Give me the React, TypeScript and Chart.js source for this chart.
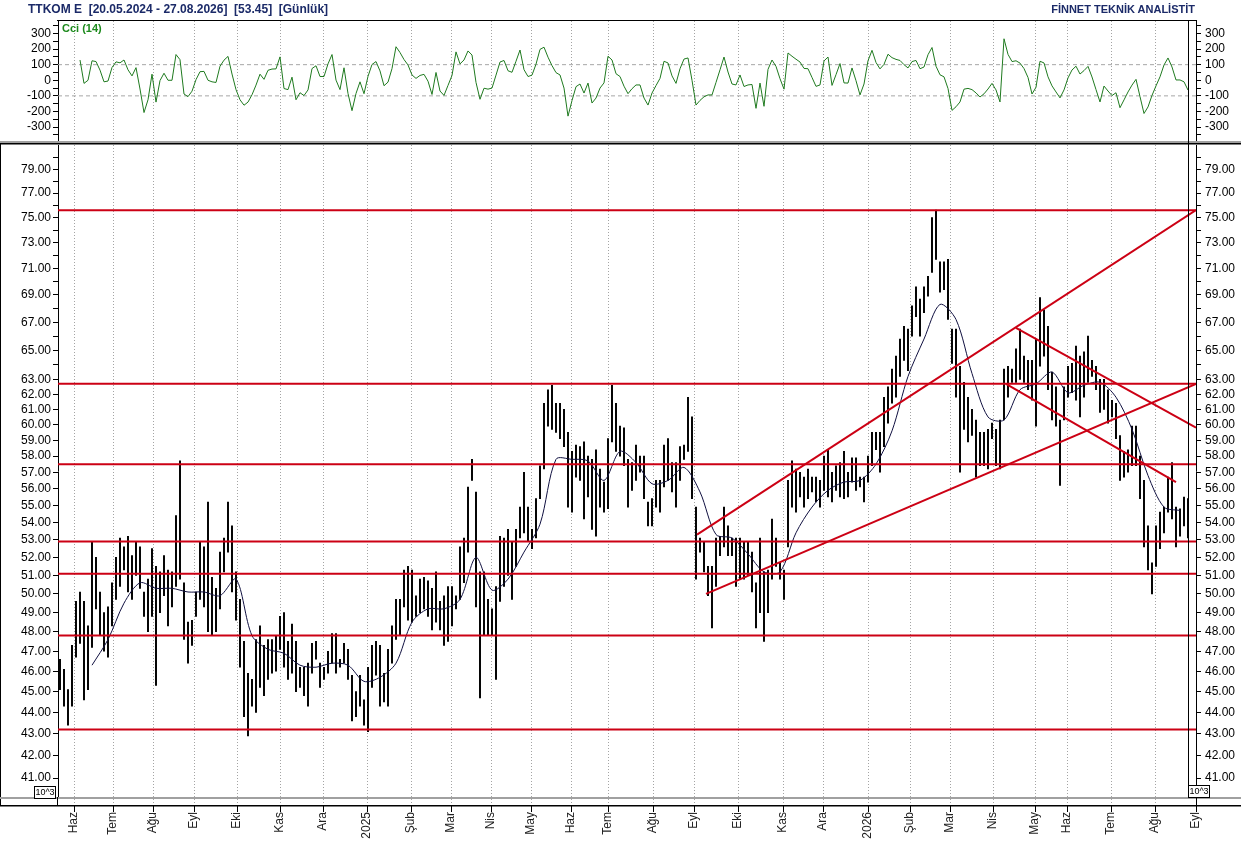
import React, { useEffect, useRef } from 'react';
import { Chart, registerables } from 'chart.js';

Chart.register(...registerables);

const FONT = "'Liberation Sans', Arial, Helvetica, sans-serif";

// ---- price bars (one bar per two sessions), high / low ----
const highs = [
  46.6, 46.1, 45.1, 47.3, 49.6, 50.1, 49.6, 48.3, 52.9, 52.0,
  50.1, 49.0, 49.3, 50.6, 52.0, 53.1, 52.6, 53.2, 52.1, 52.9,
  52.6, 50.1, 50.8, 52.5, 51.5, 51.2, 52.1, 51.3, 51.2, 54.4,
  57.7, 50.6, 48.5, 48.6, 50.1, 52.9, 52.6, 55.2, 50.9, 50.3,
  52.3, 53.1, 55.2, 53.8, 51.2, 49.7, 47.5, 45.9, 45.6, 47.6,
  48.3, 47.3, 47.6, 47.6, 47.8, 48.8, 49.0, 47.5, 48.4, 47.5,
  46.2, 46.2, 46.4, 47.4, 47.5, 46.4, 46.2, 47.0, 47.9, 47.9,
  46.6, 47.4, 47.1, 45.8, 45.0, 45.8, 44.6, 46.2, 47.3, 47.5,
  47.3, 45.9, 47.1, 48.3, 49.7, 49.7, 51.3, 51.5, 51.3, 49.9,
  50.8, 50.9, 50.7, 50.3, 51.2, 49.6, 49.9, 50.4, 50.4, 49.9,
  52.6, 53.1, 56.1, 57.8, 55.8, 51.2, 51.2, 49.7, 49.2, 50.4,
  53.2, 53.1, 53.6, 52.9, 53.6, 54.9, 57.0, 54.9, 53.6, 55.4,
  57.4, 61.4, 62.3, 62.6, 61.4, 61.4, 61.0, 59.5, 58.3, 58.7,
  58.6, 58.9, 58.0, 57.8, 58.4, 57.2, 56.4, 59.1, 62.6, 61.4,
  59.9, 59.8, 57.8, 57.6, 58.7, 58.0, 58.0, 55.2, 55.4, 56.5,
  56.5, 58.7, 59.1, 57.6, 57.6, 58.6, 58.7, 61.8, 60.5, 54.9,
  53.1, 52.9, 51.5, 51.5, 53.1, 53.2, 54.9, 53.8, 53.1, 53.1,
  53.1, 52.9, 52.9, 52.3, 50.6, 53.1, 51.2, 51.3, 54.2, 53.1,
  51.7, 51.3, 56.5, 57.7, 57.2, 57.0, 56.7, 57.2, 56.7, 56.7,
  56.5, 58.0, 58.4, 57.0, 57.4, 57.6, 58.3, 57.0, 57.9, 57.9,
  56.7, 56.7, 58.0, 59.5, 59.5, 59.5, 61.8, 62.5, 63.7, 64.6,
  65.8, 66.7, 66.5, 68.2, 69.6, 68.7, 69.6, 70.4, 75.0, 75.6,
  71.5, 71.5, 71.7, 66.5, 66.5, 63.9, 62.8, 61.8, 61.0, 60.3,
  59.5, 59.5, 59.7, 60.1, 59.7, 60.3, 63.7, 63.9, 63.7, 65.1,
  66.5, 64.6, 64.3, 64.3, 65.8, 68.8, 67.9, 66.7, 63.5, 62.5,
  60.3, 62.5, 63.9, 64.1, 65.3, 64.6, 64.9, 66.0, 64.3, 63.9,
  63.0, 63.0, 62.3, 61.6, 61.4, 59.3, 58.3, 58.4, 59.9, 59.9,
  58.0, 56.5, 53.8, 51.7, 53.8, 54.6, 54.9, 56.7, 57.6, 54.9,
  54.8, 55.5, 55.4,
];
const lows = [
  45.1, 44.3, 43.4, 44.3, 46.7, 47.4, 44.6, 45.1, 47.2, 49.2,
  47.8, 47.0, 46.7, 48.3, 49.7, 50.4, 51.3, 50.1, 49.7, 51.0,
  50.3, 48.8, 48.0, 48.8, 45.3, 49.0, 49.9, 48.3, 49.3, 50.4,
  50.8, 47.6, 46.4, 47.3, 48.8, 49.7, 49.3, 48.0, 47.8, 48.0,
  49.2, 51.2, 52.3, 50.1, 48.6, 46.2, 43.8, 42.9, 44.3, 44.0,
  45.2, 44.8, 45.6, 45.9, 46.0, 47.1, 46.2, 45.6, 45.9, 45.0,
  45.2, 44.8, 44.3, 45.9, 46.6, 45.2, 45.6, 45.9, 46.4, 45.9,
  46.2, 46.4, 45.6, 43.6, 43.8, 44.3, 43.4, 43.1, 45.2, 45.8,
  44.3, 44.5, 44.3, 46.4, 47.6, 47.8, 49.3, 48.6, 48.5, 48.8,
  49.0, 49.2, 48.8, 48.1, 48.5, 48.1, 47.3, 47.5, 48.3, 49.2,
  49.7, 50.6, 52.3, 56.5, 49.3, 44.7, 47.8, 47.8, 47.8, 45.6,
  49.6, 50.4, 51.0, 49.7, 51.5, 53.1, 53.4, 52.9, 52.5, 53.1,
  55.4, 57.2, 59.9, 59.7, 59.5, 59.1, 58.6, 54.9, 54.6, 56.7,
  56.5, 54.2, 55.5, 53.6, 53.2, 54.9, 54.6, 54.8, 58.9, 58.3,
  58.0, 57.4, 54.9, 55.9, 56.5, 57.0, 55.4, 53.8, 53.8, 54.9,
  54.6, 56.1, 56.5, 55.8, 54.9, 56.5, 57.8, 58.3, 55.4, 50.8,
  52.3, 51.2, 49.9, 48.2, 50.4, 52.1, 52.6, 52.1, 52.1, 50.4,
  50.8, 50.8, 51.0, 50.1, 48.2, 49.0, 47.5, 49.0, 50.8, 51.5,
  50.8, 49.7, 52.6, 54.9, 54.6, 55.5, 54.9, 55.4, 55.8, 55.2,
  54.9, 55.9, 55.5, 55.2, 55.9, 55.5, 55.4, 55.5, 56.4, 55.9,
  56.1, 55.2, 56.4, 57.4, 58.4, 57.0, 58.6, 60.1, 61.4, 61.8,
  63.2, 64.3, 63.6, 66.0, 67.4, 66.0, 67.7, 68.9, 70.7, 71.7,
  69.2, 69.4, 67.2, 64.1, 61.8, 57.0, 59.7, 58.9, 59.3, 56.7,
  57.4, 57.4, 57.2, 59.1, 57.4, 57.2, 60.3, 61.8, 62.8, 62.8,
  63.0, 62.8, 62.3, 61.6, 59.9, 63.9, 64.6, 62.3, 60.3, 59.9,
  56.2, 60.3, 61.8, 62.1, 61.6, 60.5, 61.8, 62.8, 63.2, 62.3,
  60.8, 61.0, 60.1, 60.5, 59.1, 56.5, 56.7, 57.0, 57.4, 57.4,
  55.4, 52.6, 51.3, 50.0, 51.5, 52.5, 53.4, 54.6, 54.2, 52.6,
  53.2, 53.8, 53.1,
];

// ---- moving average, sampled every 4 bars starting at bar 8 ----
const maStart = 8;
const maStep = 4;
const maValues = [
  46.3, 47.6, 49.5, 50.6, 50.3, 50.3, 50.1, 50.1, 49.9, 50.8,
  47.8, 47.1, 46.9, 46.3, 46.2, 46.4, 46.3, 45.5, 45.7, 46.4,
  48.5, 49.2, 49.2, 49.7, 52.0, 50.2, 50.8, 52.3, 53.9, 57.8,
  57.8, 57.7, 56.5, 58.3, 57.6, 56.3, 56.5, 57.3, 55.8, 53.3,
  53.1, 52.2, 51.2, 51.2, 53.4, 54.9, 55.9, 56.4, 56.5, 57.5,
  59.6, 63.2, 65.8, 68.3, 67.2, 63.4, 60.5, 60.3, 62.3, 62.7,
  63.5, 62.1, 62.6, 62.8, 61.8, 59.7, 56.8, 54.9, 54.7,
];

// ---- CCI(14), one value per bar starting at bar 5 ----
const cciStart = 5;
const cciValues = [
  130, -20, 0, 125, 120, 65, -10, -5, 82, 118,
  112, 130, 67, 28, 81, -56, -207, -125, 39, -140,
  -2, 45, 0, 0, 165, 132, -88, -105, -70, 4,
  55, 57, 0, -10, -14, 90, 129, 153, 40, -60,
  -125, -160, -140, -93, -31, 39, 6, 64, 72, 73,
  150, -53, -60, 20, -125, -80, -98, -62, 75, 93,
  24, 24, 105, 165, 1, -60, 80, -85, -195, -85,
  -10, -86, 25, 101, 120, 60, -35, -12, 75, 215,
  178, 133, 98, 34, 12, 31, 38, -6, -91, 50,
  -69, -97, -33, 31, 182, 105, 130, 188, 162, -14,
  -122, -51, -57, -50, 33, 117, 127, 61, 51, 122,
  194, 68, 24, 33, 103, 198, 212, 148, 94, 49,
  34, -50, -230, -130, -41, -24, -82, -18, -146, -114,
  -50, -17, 154, 130, 42, 24, -38, -86, -54, -30,
  -30, -114, -159, -82, -34, 12, 122, 111, 28, -20,
  74, 136, 143, 0, -159, -129, -106, -94, -94, -14,
  67, 149, 53, -24, -30, 34, -40, -30, -27, -180,
  -18, -167, 70, 130, 89, 10, -57, 175, 154, 135,
  117, 76, 74, 18, -39, -30, 124, 149, -33, 36,
  107, -17, -18, 79, -3, -94, -24, 125, 192, 114,
  73, 102, 167, 145, 134, 127, 100, 79, 120, 127,
  74, 85, 164, 210, 90, 35, 22, -53, -193, -170,
  -139, -57, -52, -60, -81, -107, -87, -56, -20, -62,
  -139, 266, 166, 120, 125, 110, 75, 18, -88, -45,
  122, 111, 22, -36, -75, -113, -62, 15, 66, 90,
  40, 62, 89, 21, -60, -139, -37, -69, -98, -80,
  -176, -126, -75, -31, 6, -105, -213, -171, -97, -36,
  22, 98, 143, 85, 2, 2, -10, -63,
];

// ---- time axis (bar-index units) ----
const monthLabels = [
  'Haz', 'Tem', 'Ağu', 'Eyl', 'Eki', 'Kas', 'Ara', '2025', 'Şub', 'Mar',
  'Nis', 'May', 'Haz', 'Tem', 'Ağu', 'Eyl', 'Eki', 'Kas', 'Ara', '2026',
  'Şub', 'Mar', 'Nis', 'May', 'Haz', 'Tem', 'Ağu', 'Eyl',
];
const monthPositions = [
  3.5, 13.25, 23.25, 33.5, 44.25, 55, 65.75, 76.75, 87.75, 97.75,
  107.75, 117.75, 127.75, 137, 148.25, 158.5, 169.5, 180.75, 190.75, 202,
  212.5, 222.5, 233.25, 243.75, 251.75, 262.75, 273.75, 284,
];

// ---- price axis ticks ----
const priceLabelTicks = [
  41, 42, 43, 44, 45, 46, 47, 48, 49, 50, 51, 52, 53, 54, 55, 56, 57, 58, 59, 60,
  61, 62, 63, 65, 67, 69, 71, 73, 75, 77, 79,
];
const priceMinorTicks = [64, 66, 68, 70, 72, 74, 76, 78, 80];
const cciTickValues = [-350, -300, -250, -200, -150, -100, -50, 0, 50, 100, 150, 200, 250, 300, 350];
const cciLevels = [100, -100];

// ---- drawn analysis ----
const supportLevels = [75.6, 62.7, 57.5, 52.9, 51.1, 47.8, 43.2];
const trendLines = [
  { x1: 161.5, y1: 50.0, x2: 284, y2: 62.7 },
  { x1: 159.25, y1: 53.3, x2: 284, y2: 75.6 },
  { x1: 239, y1: 66.6, x2: 284, y2: 59.8 },
  { x1: 236.5, y1: 62.7, x2: 279, y2: 56.4 },
];

const X_MIN = -0.5;
const X_MAX = 284;
const PRICE_MIN = 40.17;
const PRICE_MAX = 81.1;
const CCI_MIN = -383;
const CCI_MAX = 380;
const LEFT_W = 58;
const RIGHT_W = 45;
const RED = '#cc0014';

function drawMonthGrid(chart: any, extraBottom: number) {
  const { ctx, chartArea, scales } = chart;
  const xs = scales.x;
  ctx.save();
  ctx.strokeStyle = '#a4a4a4';
  ctx.lineWidth = 1;
  ctx.setLineDash([1, 2]);
  monthPositions.forEach((v) => {
    const px = Math.round(xs.getPixelForValue(v)) + 0.5;
    if (px > chartArea.right - 1) return;
    ctx.beginPath();
    ctx.moveTo(px, chartArea.top);
    ctx.lineTo(px, chartArea.bottom + extraBottom);
    ctx.stroke();
  });
  ctx.restore();
}

function drawLastBarMarker(chart: any, from: number, to: number) {
  const { ctx, scales } = chart;
  const px = Math.round(scales.x.getPixelForValue(highs.length - 1)) + 0.5;
  ctx.save();
  ctx.strokeStyle = '#000';
  ctx.lineWidth = 1;
  ctx.beginPath();
  ctx.moveTo(px, from);
  ctx.lineTo(px, to);
  ctx.stroke();
  ctx.restore();
}

function drawExpBox(ctx: CanvasRenderingContext2D, x: number, y: number) {
  ctx.save();
  ctx.fillStyle = '#fff';
  ctx.fillRect(x, y, 21, 12);
  ctx.strokeStyle = '#000';
  ctx.lineWidth = 1;
  ctx.strokeRect(x + 0.5, y + 0.5, 21, 12);
  ctx.fillStyle = '#000';
  ctx.font = `9px ${FONT}`;
  ctx.textAlign = 'center';
  ctx.textBaseline = 'middle';
  ctx.fillText('10^3', x + 11, y + 7);
  ctx.restore();
}

const topDeco = {
  id: 'topDeco',
  beforeDatasetsDraw(chart: any) {
    drawMonthGrid(chart, 0);
  },
  afterDraw(chart: any) {
    const { ctx, chartArea, width } = chart;
    ctx.save();
    ctx.fillStyle = '#000';
    ctx.fillRect(chartArea.left - 1, chartArea.top - 1, chartArea.right - chartArea.left + 2, 1);
    ctx.fillStyle = '#a0a0a0';
    ctx.fillRect(0, chartArea.bottom + 1, width, 2);
    ctx.fillStyle = '#1d8a1d';
    ctx.font = `bold 11px ${FONT}`;
    ctx.textBaseline = 'top';
    ctx.textAlign = 'left';
    ctx.fillText('Cci (14)', chartArea.left + 4, chartArea.top + 2);
    ctx.restore();
    drawLastBarMarker(chart, chartArea.top, chartArea.bottom + 3);
  },
};

const mainDeco = {
  id: 'mainDeco',
  beforeDatasetsDraw(chart: any) {
    drawMonthGrid(chart, 8);
  },
  afterDraw(chart: any) {
    const { ctx, chartArea, width, scales } = chart;
    const { left, right, bottom } = chartArea;
    ctx.save();
    ctx.fillStyle = '#000';
    ctx.fillRect(0, 0, width, 1.5);
    ctx.fillRect(0, 0, 1, bottom + 9);
    ctx.fillStyle = '#a0a0a0';
    ctx.fillRect(0, bottom, width, 2);
    ctx.fillStyle = '#000';
    ctx.fillRect(0, bottom + 8, width, 1.5);
    ctx.fillRect(left - 1, bottom, 1, 9);
    ctx.fillRect(right, bottom, 1, 9);
    monthPositions.forEach((v) => {
      const px = Math.round(scales.x.getPixelForValue(v));
      ctx.fillRect(px, bottom + 9, 1, 6);
    });
    ctx.restore();
    drawLastBarMarker(chart, 0, bottom);
    drawExpBox(ctx, left - 24, bottom - 11);
    drawExpBox(ctx, right - 8, bottom - 12);
  },
};

const tickFont = { family: FONT, size: 12 };

function fixAxisBox(position: 'left' | 'right') {
  return (s: any) => {
    s.width = position === 'left' ? LEFT_W : RIGHT_W;
    s.paddingTop = 0;
    s.paddingBottom = 0;
  };
}

function cciAxis(position: 'left' | 'right') {
  return {
    type: 'linear',
    position,
    min: CCI_MIN,
    max: CCI_MAX,
    afterBuildTicks: (s: any) => {
      s.ticks = cciTickValues.map((v) => ({ value: v }));
    },
    afterFit: fixAxisBox(position),
    ticks: {
      autoSkip: false,
      font: tickFont,
      color: '#000',
      padding: position === 'left' ? 2 : 4,
      callback: (v: number) => (Math.abs(v) <= 300 && v % 100 === 0 ? String(v) : ''),
    },
    grid: { drawOnChartArea: false, drawTicks: true, tickLength: 5, tickColor: '#000', tickWidth: 1 },
    border: { display: true, color: '#000', width: 1 },
  };
}

function priceAxis(position: 'left' | 'right') {
  const all = [...priceLabelTicks, ...priceMinorTicks].sort((a, b) => a - b);
  return {
    type: 'logarithmic',
    position,
    min: PRICE_MIN,
    max: PRICE_MAX,
    afterBuildTicks: (s: any) => {
      s.ticks = all.map((v) => ({ value: v }));
    },
    afterFit: fixAxisBox(position),
    ticks: {
      autoSkip: false,
      font: tickFont,
      color: '#000',
      padding: position === 'left' ? 2 : 4,
      callback: (v: number) => (priceLabelTicks.includes(v) ? v.toFixed(2) : ''),
    },
    grid: { drawOnChartArea: false, drawTicks: true, tickLength: 5, tickColor: '#000', tickWidth: 1 },
    border: { display: true, color: '#000', width: 1 },
  };
}

export default function App() {
  const topRef = useRef<HTMLCanvasElement>(null);
  const mainRef = useRef<HTMLCanvasElement>(null);

  useEffect(() => {
    document.body.style.margin = '0';
    Chart.defaults.font.family = FONT;
    const charts: Chart[] = [];

    if (topRef.current) {
      charts.push(
        new Chart(topRef.current, {
          type: 'line',
          data: {
            datasets: [
              {
                data: cciValues.map((v, i) => ({ x: cciStart + i, y: v })),
                borderColor: '#1f7a1f',
                borderWidth: 1,
                pointRadius: 0,
                tension: 0,
              },
              ...cciLevels.map((lv) => ({
                data: [
                  { x: X_MIN, y: lv },
                  { x: X_MAX, y: lv },
                ],
                borderColor: '#a6a6a6',
                borderWidth: 1,
                borderDash: [4, 3],
                pointRadius: 0,
              })),
            ],
          },
          options: {
            responsive: false,
            animation: false,
            events: [],
            layout: { padding: { top: 21, bottom: 3, left: 0, right: 0 } },
            plugins: { legend: { display: false }, tooltip: { enabled: false } },
            scales: {
              x: { type: 'linear', min: X_MIN, max: X_MAX, display: false, offset: false },
              y: cciAxis('left'),
              y2: cciAxis('right'),
            },
          } as any,
          plugins: [topDeco],
        })
      );
    }

    if (mainRef.current) {
      const levelSets = supportLevels.map((lv) => ({
        type: 'line',
        data: [
          { x: X_MIN, y: lv },
          { x: X_MAX, y: lv },
        ],
        borderColor: RED,
        borderWidth: 2,
        pointRadius: 0,
      }));
      const trendSets = trendLines.map((t) => ({
        type: 'line',
        data: [
          { x: t.x1, y: t.y1 },
          { x: t.x2, y: t.y2 },
        ],
        borderColor: RED,
        borderWidth: 2,
        pointRadius: 0,
      }));
      charts.push(
        new Chart(mainRef.current, {
          type: 'bar',
          data: {
            datasets: [
              ...trendSets,
              ...levelSets,
              {
                type: 'line',
                data: maValues.map((v, j) => ({ x: maStart + j * maStep, y: v })),
                borderColor: '#101040',
                borderWidth: 1,
                pointRadius: 0,
                tension: 0.3,
              },
              {
                type: 'bar',
                data: highs.map((h, i) => ({ x: i, y: [lows[i], h] })),
                backgroundColor: '#000',
                borderWidth: 0,
                barThickness: 1.3,
                grouped: false,
              },
            ] as any,
          },
          options: {
            responsive: false,
            animation: false,
            events: [],
            layout: { padding: { top: 2, bottom: 0, left: 0, right: 0 } },
            plugins: { legend: { display: false }, tooltip: { enabled: false } },
            scales: {
              x: {
                type: 'linear',
                position: 'bottom',
                min: X_MIN,
                max: X_MAX,
                offset: false,
                afterBuildTicks: (s: any) => {
                  s.ticks = monthPositions.map((v) => ({ value: v }));
                },
                afterFit: (s: any) => {
                  s.height = 44;
                  s.paddingLeft = 0;
                  s.paddingRight = 0;
                },
                ticks: {
                  autoSkip: false,
                  minRotation: 90,
                  maxRotation: 90,
                  padding: 15,
                  font: tickFont,
                  color: '#222',
                  callback: (_v: number, i: number) => monthLabels[i],
                },
                grid: { display: false, drawTicks: false },
                border: { display: false },
              },
              y: priceAxis('left'),
              y2: priceAxis('right'),
            },
          } as any,
          plugins: [mainDeco],
        })
      );
    }

    return () => charts.forEach((c) => c.destroy());
  }, []);

  return (
    <div
      style={{
        position: 'absolute',
        left: 0,
        top: 0,
        width: 1241,
        height: 841,
        background: '#fff',
        overflow: 'hidden',
      }}
    >
      <canvas ref={topRef} width={1241} height={143} style={{ position: 'absolute', left: 0, top: 0 }} />
      <canvas ref={mainRef} width={1241} height={698} style={{ position: 'absolute', left: 0, top: 143 }} />
      <div
        style={{
          position: 'absolute',
          left: 28,
          top: 2,
          font: `bold 12px ${FONT}`,
          color: '#1b2a68',
          whiteSpace: 'pre',
        }}
      >
        {'TTKOM E  [20.05.2024 - 27.08.2026]  [53.45]  [Günlük]'}
      </div>
      <div
        style={{
          position: 'absolute',
          right: 46,
          top: 3,
          font: `bold 11px ${FONT}`,
          color: '#1b2a68',
          whiteSpace: 'pre',
        }}
      >
        {'FİNNET TEKNİK ANALİSTİT'}
      </div>
    </div>
  );
}
